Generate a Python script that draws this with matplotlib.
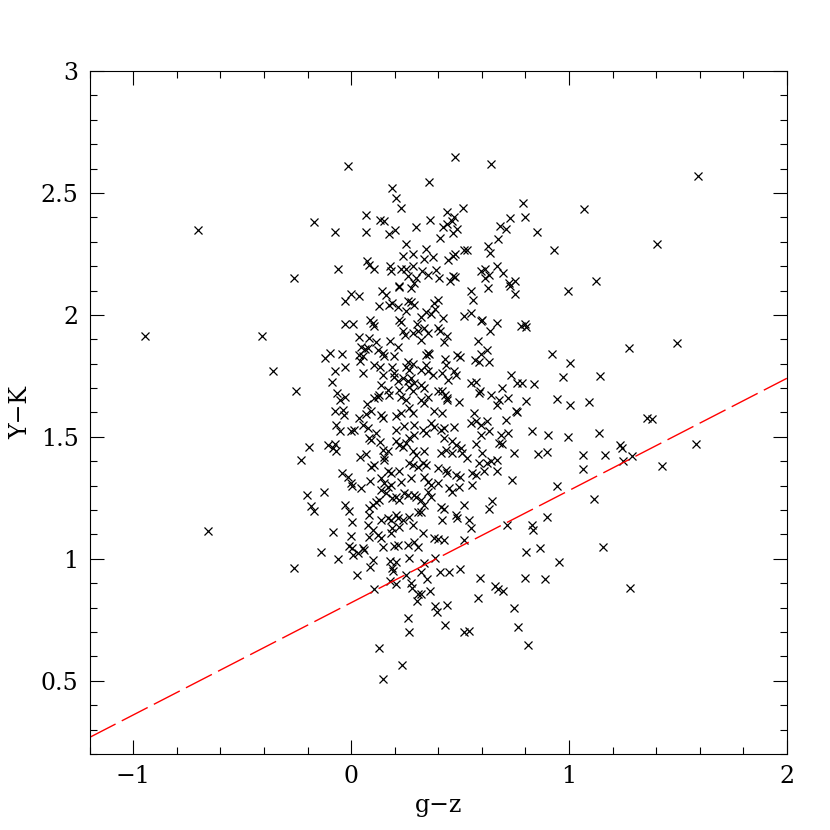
import numpy as np
import matplotlib
matplotlib.use("Agg")
import matplotlib.pyplot as plt
from matplotlib.ticker import MultipleLocator

# (g-z, Y-K) pairs, grouped by region
pts_top_left = [
    (-0.015, 2.61), (0.19, 2.52), (0.206, 2.48), (0.229, 2.44), (-0.17, 2.38),
    (0.069, 2.41), (0.134, 2.39), (0.152, 2.385), (-0.072, 2.34), (0.069, 2.34),
    (0.2, 2.35), (0.175, 2.33), (0.297, 2.36), (0.253, 2.29), (0.285, 2.25),
    (0.236, 2.24), (0.073, 2.22), (0.084, 2.205), (0.107, 2.19), (-0.061, 2.19),
    (-0.262, 2.15), (0.18, 2.2), (0.183, 2.18), (0.229, 2.19), (0.252, 2.19),
    (0.282, 2.2), (0.26, 2.16), (0.297, 2.15), (0.287, 2.13), (0.22, 2.12),
]
pts_top_right = [
    (0.478, 2.646), (0.642, 2.62), (0.357, 2.544), (0.787, 2.458), (0.8, 2.40),
    (0.514, 2.437), (0.441, 2.422), (0.362, 2.39), (0.473, 2.40), (0.462, 2.385),
    (0.421, 2.362), (0.441, 2.372), (0.488, 2.354), (0.467, 2.335), (0.41, 2.314),
    (0.728, 2.396), (0.683, 2.365), (0.711, 2.352), (0.854, 2.339), (0.676, 2.31),
    (0.93, 2.266), (0.628, 2.283), (0.636, 2.253), (0.519, 2.266), (0.53, 2.266),
    (0.346, 2.27), (0.333, 2.23), (0.378, 2.236), (0.445, 2.225), (0.468, 2.242),
    (0.475, 2.249), (0.325, 2.18), (0.351, 2.164), (0.392, 2.184), (0.404, 2.15),
    (0.468, 2.16), (0.478, 2.154), (0.454, 2.137), (0.595, 2.18), (0.615, 2.19),
    (0.633, 2.164), (0.671, 2.2), (0.699, 2.173), (0.613, 2.153), (0.726, 2.13),
    (0.752, 2.137),
]
pts_mid_left = [
    (0.0, 2.085), (0.038, 2.078), (-0.026, 2.055), (0.14, 2.10), (0.16, 2.08),
    (0.221, 2.116), (0.275, 2.11), (0.13, 2.037), (0.172, 2.04), (0.19, 2.048),
    (0.214, 2.034), (0.259, 2.057), (0.275, 2.052), (0.29, 2.04), (0.252, 2.016),
    (-0.03, 1.963), (0.008, 1.962), (0.088, 1.98), (0.099, 1.966), (0.107, 1.956),
    (0.221, 1.98), (0.229, 1.97), (0.302, 1.962), (0.236, 1.932), (0.247, 1.918),
    (0.282, 1.927), (0.305, 1.932), (0.035, 1.909), (0.081, 1.905), (0.114, 1.89),
    (0.18, 1.893), (0.217, 1.87), (0.046, 1.87), (0.066, 1.86), (0.079, 1.864),
    (0.038, 1.836), (0.054, 1.833), (0.043, 1.81), (0.122, 1.857), (0.145, 1.843),
    (0.152, 1.83), (0.198, 1.83), (0.259, 1.806), (0.252, 1.788), (0.267, 1.775),
    (0.282, 1.798), (-0.122, 1.823), (-0.098, 1.843), (-0.041, 1.839), (-0.03, 1.788),
    (-0.076, 1.77), (-0.087, 1.724), (0.056, 1.763), (0.104, 1.795), (0.131, 1.786),
    (0.145, 1.754), (0.19, 1.788), (0.198, 1.761), (-0.253, 1.689), (0.198, 1.747),
    (0.214, 1.727), (0.236, 1.743), (0.259, 1.727), (0.275, 1.74), (0.29, 1.72),
    (0.267, 1.706), (0.282, 1.686), (0.137, 1.713), (0.168, 1.693), (0.13, 1.672),
    (0.175, 1.672), (0.221, 1.693), (0.229, 1.665), (0.252, 1.652), (-0.066, 1.679),
    (-0.053, 1.652), (-0.03, 1.665), (-0.076, 1.607), (-0.038, 1.611), (-0.031, 1.59),
    (0.073, 1.634), (0.107, 1.658), (0.122, 1.665), (0.069, 1.593), (0.092, 1.604),
    (0.038, 1.579), (0.137, 1.59), (0.145, 1.579), (0.206, 1.586), (0.229, 1.597),
    (0.267, 1.618), (0.282, 1.597),
]
pts_mid_right = [
    (0.552, 2.098), (0.56, 2.063), (0.628, 2.112), (0.729, 2.119), (0.752, 2.085),
    (0.4, 2.061), (0.381, 2.048), (0.384, 2.023), (0.343, 2.01), (0.366, 2.003),
    (0.32, 1.993), (0.422, 1.986), (0.401, 1.948), (0.409, 1.934), (0.351, 1.925),
    (0.439, 1.914), (0.427, 1.89), (0.32, 1.898), (0.336, 1.945), (0.516, 1.996),
    (0.549, 2.007), (0.595, 1.977), (0.603, 1.98), (0.671, 1.966), (0.638, 1.932),
    (0.584, 1.895), (0.778, 1.955), (0.796, 1.962), (0.805, 1.952), (0.351, 1.843),
    (0.359, 1.839), (0.343, 1.836), (0.484, 1.836), (0.5, 1.829), (0.626, 1.857),
    (0.595, 1.84), (0.568, 1.816), (0.587, 1.806), (0.633, 1.805), (0.92, 1.84),
    (0.43, 1.82), (0.435, 1.795), (0.343, 1.795), (0.32, 1.775), (0.351, 1.768),
    (0.374, 1.754), (0.415, 1.761), (0.473, 1.768), (0.481, 1.754), (0.445, 1.734),
    (0.32, 1.713), (0.336, 1.7), (0.732, 1.754), (0.763, 1.72), (0.786, 1.72),
    (0.839, 1.716), (0.973, 1.747), (0.549, 1.72), (0.572, 1.724), (0.592, 1.689),
    (0.587, 1.679), (0.641, 1.672), (0.691, 1.7), (0.679, 1.652), (0.671, 1.631),
    (0.72, 1.661), (0.801, 1.648), (0.943, 1.655), (0.397, 1.686), (0.419, 1.686),
    (0.43, 1.672), (0.442, 1.652), (0.439, 1.659), (0.496, 1.642), (0.381, 1.604),
    (0.419, 1.597), (0.336, 1.638), (0.351, 1.665), (0.32, 1.652), (0.564, 1.597),
    (0.755, 1.607), (0.763, 1.601),
]
pts_low_left = [
    (-0.069, 1.549), (-0.053, 1.522), (0.0, 1.525), (0.015, 1.529), (0.054, 1.549),
    (0.076, 1.536), (0.114, 1.515), (0.084, 1.495), (0.092, 1.488), (-0.195, 1.458),
    (-0.229, 1.406), (-0.107, 1.467), (-0.084, 1.454), (-0.069, 1.444), (-0.076, 1.471),
    (0.134, 1.477), (0.145, 1.447), (0.168, 1.44), (0.152, 1.419), (0.152, 1.406),
    (0.043, 1.419), (0.069, 1.429), (0.092, 1.378), (0.107, 1.385), (0.206, 1.481),
    (0.221, 1.467), (0.236, 1.46), (0.252, 1.474), (0.267, 1.495), (0.29, 1.508),
    (0.206, 1.529), (0.244, 1.543), (0.29, 1.549), (0.282, 1.44), (0.297, 1.426),
    (0.267, 1.392), (0.282, 1.385), (0.305, 1.378), (0.168, 1.358), (0.183, 1.351),
    (0.221, 1.358), (0.229, 1.317), (0.275, 1.331), (-0.041, 1.351), (-0.015, 1.337),
    (0.0, 1.31), (0.003, 1.299), (0.046, 1.292), (0.088, 1.32), (0.137, 1.331),
    (0.152, 1.31), (0.168, 1.296), (0.183, 1.303), (0.137, 1.283), (0.16, 1.269),
    (0.19, 1.249), (0.206, 1.255), (0.221, 1.242), (0.244, 1.269), (0.259, 1.262),
    (0.29, 1.262), (0.297, 1.255), (-0.201, 1.262), (-0.125, 1.272), (-0.186, 1.217),
    (-0.172, 1.198), (-0.03, 1.221), (-0.011, 1.198), (0.114, 1.235), (0.13, 1.242),
    (0.099, 1.221), (0.084, 1.208), (0.084, 1.18), (0.137, 1.16), (0.168, 1.167),
    (0.183, 1.16), (0.206, 1.18), (0.214, 1.167), (0.236, 1.16), (0.267, 1.173),
    (0.305, 1.194), (0.282, 1.139), (0.221, 1.132), (0.19, 1.126), (0.005, 1.153),
    (0.079, 1.139), (0.099, 1.119), (0.122, 1.098), (0.137, 1.085), (0.183, 1.105),
    (0.084, 1.091), (0.0, 1.094), (-0.084, 1.112), (-0.008, 1.053), (0.005, 1.044),
    (0.054, 1.044), (0.061, 1.037), (0.145, 1.05), (0.198, 1.053), (0.214, 1.057),
    (0.259, 1.057), (0.29, 1.071), (0.305, 1.05), (-0.14, 1.03), (0.031, 1.023),
]
pts_low_right = [
    (0.366, 1.556), (0.381, 1.542), (0.328, 1.529), (0.343, 1.515), (0.412, 1.529),
    (0.427, 1.536), (0.473, 1.542), (0.549, 1.556), (0.572, 1.563), (0.595, 1.549),
    (0.626, 1.563), (0.709, 1.57), (0.633, 1.522), (0.595, 1.508), (0.686, 1.508),
    (0.72, 1.515), (0.679, 1.474), (0.694, 1.471), (0.572, 1.471), (0.603, 1.433),
    (0.641, 1.399), (0.668, 1.406), (0.831, 1.522), (0.903, 1.508), (0.748, 1.433),
    (0.858, 1.43), (0.9, 1.437), (0.427, 1.495), (0.465, 1.481), (0.481, 1.467),
    (0.503, 1.454), (0.435, 1.447), (0.412, 1.433), (0.465, 1.433), (0.51, 1.433),
    (0.533, 1.413), (0.336, 1.44), (0.328, 1.392), (0.343, 1.385), (0.397, 1.371),
    (0.435, 1.365), (0.442, 1.351), (0.481, 1.344), (0.5, 1.337), (0.557, 1.351),
    (0.572, 1.344), (0.61, 1.358), (0.671, 1.358), (0.626, 1.392), (0.587, 1.392),
    (0.74, 1.324), (0.943, 1.299), (0.336, 1.337), (0.351, 1.317), (0.366, 1.303),
    (0.397, 1.31), (0.351, 1.276), (0.366, 1.255), (0.45, 1.29), (0.465, 1.276),
    (0.496, 1.296), (0.557, 1.303), (0.519, 1.221), (0.648, 1.239), (0.633, 1.204),
    (0.32, 1.242), (0.336, 1.221), (0.32, 1.194), (0.412, 1.212), (0.427, 1.204),
    (0.419, 1.16), (0.481, 1.18), (0.485, 1.167), (0.541, 1.16), (0.549, 1.126),
    (0.328, 1.105), (0.381, 1.085), (0.397, 1.08), (0.427, 1.078), (0.519, 1.078),
    (0.714, 1.139), (0.831, 1.139), (0.836, 1.119), (0.897, 1.171), (0.801, 1.03),
    (0.865, 1.044),
]
pts_bottom = [
    (-0.262, 0.962), (-0.061, 1.0), (0.008, 1.016), (0.099, 0.996), (0.088, 0.965),
    (0.027, 0.932), (0.104, 0.877), (0.18, 0.992), (0.206, 0.986), (0.19, 0.962),
    (0.194, 0.951), (0.18, 0.91), (0.206, 0.896), (0.264, 1.003), (0.252, 0.932),
    (0.275, 0.9), (0.278, 0.88), (0.305, 0.855), (0.302, 0.828), (0.262, 0.759),
    (0.267, 0.7), (0.127, 0.634), (0.232, 0.566), (0.145, 0.508),
    (0.336, 0.982), (0.384, 1.003), (0.32, 0.948), (0.348, 0.918), (0.409, 0.945),
    (0.45, 0.945), (0.499, 0.959), (0.32, 0.855), (0.363, 0.869), (0.384, 0.805),
    (0.394, 0.784), (0.442, 0.809), (0.43, 0.727), (0.516, 0.702), (0.541, 0.706),
    (0.59, 0.921), (0.583, 0.839), (0.659, 0.887), (0.674, 0.876), (0.699, 0.869),
    (0.747, 0.798), (0.766, 0.719), (0.813, 0.648), (0.796, 0.923), (0.892, 0.917),
]
pts_outliers = [
    (1.594, 2.57), (1.068, 2.433), (1.404, 2.291), (1.126, 2.137), (0.995, 2.096),
    (1.004, 1.802), (1.144, 1.75), (1.277, 1.866), (1.498, 1.884), (1.007, 1.631),
    (1.091, 1.642), (1.358, 1.577), (1.381, 1.574), (0.996, 1.501), (1.137, 1.515),
    (1.063, 1.426), (1.167, 1.426), (1.236, 1.467), (1.243, 1.454), (1.289, 1.423),
    (1.248, 1.402), (1.582, 1.47), (1.429, 1.381), (1.065, 1.368), (1.117, 1.246),
    (1.155, 1.047), (0.953, 0.985), (1.281, 0.882), (-0.702, 2.346), (-0.946, 1.915),
    (-0.407, 1.915), (-0.357, 1.768), (-0.659, 1.116),
]

# dividing line Y-K = a + b (g-z)
line_intercept = 0.82
line_slope = 0.46

x_range = (-1.2, 2.0)
y_range = (0.2, 3.0)
x_ticks = [-1, 0, 1, 2]
x_ticklabels = ["\u22121", "0", "1", "2"]
y_ticks = [0.5, 1, 1.5, 2, 2.5, 3]
y_ticklabels = ["0.5", "1", "1.5", "2", "2.5", "3"]

all_pts = np.array(pts_top_left + pts_top_right + pts_mid_left + pts_mid_right +
                   pts_low_left + pts_low_right + pts_bottom + pts_outliers)
gz = all_pts[:, 0]
yk = all_pts[:, 1]

plt.rcParams['font.family'] = ['DejaVu Serif']
fig = plt.figure(figsize=(8.3, 8.3), dpi=100)
ax = fig.add_axes([0.108, 0.0916, 0.840, 0.8229])

ax.plot(gz, yk, linestyle='none', marker='x', color='black',
        markersize=5.2, markeredgewidth=0.9)

lx = np.array(x_range)
line, = ax.plot(lx, line_intercept + line_slope * lx, color='red', lw=1.0)
line.set_dashes((21, 5))

ax.set_xlim(*x_range)
ax.set_ylim(*y_range)
ax.set_xticks(x_ticks)
ax.set_xticklabels(x_ticklabels)
ax.set_yticks(y_ticks)
ax.set_yticklabels(y_ticklabels)
ax.xaxis.set_minor_locator(MultipleLocator(0.2))
ax.yaxis.set_minor_locator(MultipleLocator(0.1))
ax.tick_params(which='both', direction='in', top=True, right=True, width=0.8,
               labelsize=17, pad=8)
ax.tick_params(which='major', length=10)
ax.tick_params(which='minor', length=5)
for s in ax.spines.values():
    s.set_linewidth(0.8)

ax.set_xlabel("g\u2212z", fontsize=17, labelpad=4)
ax.set_ylabel("Y\u2212K", fontsize=17, labelpad=6)

fig.savefig("out.png", dpi=100)
